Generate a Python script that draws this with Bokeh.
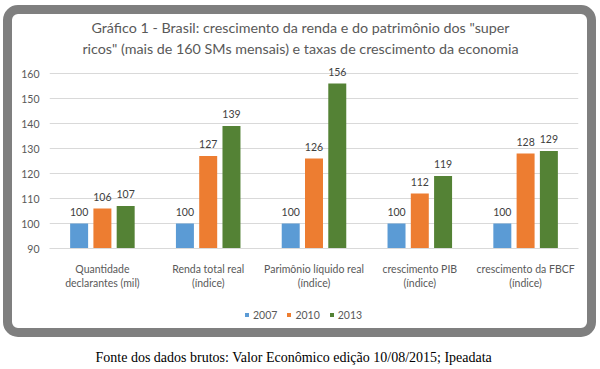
from bokeh.plotting import figure
from bokeh.layouts import column
from bokeh.models import (FactorRange, FixedTicker, LabelSet, Label, Legend, LegendItem,
                          ColumnDataSource, Range1d)
from bokeh.transform import dodge
from bokeh.embed import file_html
from bokeh.resources import INLINE
from bokeh.core.properties import value

# ---------------- data ----------------
categories = ["Quantidade\ndeclarantes (mil)", "Renda total real\n(índice)",
              "Parimônio líquido real\n(índice)", "crescimento PIB\n(índice)",
              "crescimento da FBCF\n(índice)"]
years = ["2007", "2010", "2013"]
v2007 = [100, 100, 100, 100, 100]
v2010 = [106, 127, 126, 112, 128]
v2013 = [107, 139, 156, 119, 129]
y_ticks = [90, 100, 110, 120, 130, 140, 150, 160]
title_text = ('Gráfico 1 - Brasil: crescimento da renda e do patrimônio dos "super\n'
              'ricos" (mais de 160 SMs mensais) e taxas de crescimento da economia')
footer_text = "Fonte dos dados brutos: Valor Econômico edição 10/08/2015; Ipeadata"

colors = ["#5B9BD5", "#ED7D31", "#548235"]
offsets = [-0.22, 0.0, 0.22]

TXT = "#595959"
FONT = "Lato"

src = ColumnDataSource(data=dict(
    cat=categories,
    v2007=v2007, v2010=v2010, v2013=v2013,
    l2007=[str(v) for v in v2007],
    l2010=[str(v) for v in v2010],
    l2013=[str(v) for v in v2013],
))

# ---------------- main chart ----------------
p = figure(width=600, height=300, x_range=FactorRange(factors=categories),
           y_range=Range1d(90, 165.2), output_backend="svg", toolbar_location=None,
           title=None,
           min_border_left=49, min_border_right=22, min_border_top=60,
           min_border_bottom=52)
p.x_range.range_padding = 0
p.background_fill_color = "white"
p.border_fill_color = "white"
p.outline_line_color = None

for yr, col, off in zip(years, colors, offsets):
    p.vbar(x=dodge("cat", off, range=p.x_range), top="v" + yr, bottom=90,
           width=0.17, source=src, fill_color=col, line_color=None)
    p.add_layout(LabelSet(x=dodge("cat", off, range=p.x_range), y="v" + yr,
                          text="l" + yr, source=src, text_align="center",
                          text_baseline="middle", y_offset=12,
                          text_font=value(FONT), text_font_size="10.5px",
                          text_color="#404040"))

p.yaxis.ticker = FixedTicker(ticks=y_ticks)
p.yaxis.axis_line_color = None
p.yaxis.major_tick_line_color = None
p.yaxis.minor_tick_line_color = None
p.yaxis.major_tick_out = 0
p.yaxis.major_tick_in = 0
p.yaxis.major_label_standoff = 10
p.yaxis.major_label_text_font = FONT
p.yaxis.major_label_text_font_size = "10.5px"
p.yaxis.major_label_text_color = TXT

p.xaxis.axis_line_color = "#d9d9d9"
p.xaxis.major_tick_line_color = None
p.xaxis.minor_tick_line_color = None
p.xaxis.major_label_standoff = 8
p.xaxis.major_label_text_font = FONT
p.xaxis.major_label_text_font_size = "10.5px"
p.xaxis.major_label_text_color = TXT
p.xaxis.major_label_text_line_height = 1.2

p.xgrid.grid_line_color = None
p.ygrid.grid_line_color = "#d9d9d9"
p.ygrid.grid_line_width = 1

p.add_layout(Label(x=251, y=22.5, x_units="screen", y_units="screen", text=title_text,
                   text_align="center", text_baseline="middle", text_font=FONT,
                   text_font_size="14.3px", text_line_height=1.22, text_color=TXT),
             "above")

# ---------------- legend + source strip ----------------
q = figure(width=600, height=69, x_range=Range1d(0, 1), y_range=Range1d(0, 1),
           output_backend="svg", toolbar_location=None, title=None,
           x_axis_location=None, y_axis_location=None,
           min_border_left=0, min_border_right=0, min_border_top=0,
           min_border_bottom=0)
q.background_fill_color = "white"
q.border_fill_color = "white"
q.outline_line_color = None
q.grid.grid_line_color = None

# zero-height proxies that only supply the legend swatches
swatches = [q.vbar(x=[0.5], top=[0], width=0.1, fill_color=col, line_color=None)
            for col in colors]
lg = Legend(items=[LegendItem(label=yr, renderers=[r]) for yr, r in zip(years, swatches)],
            orientation="horizontal", location=(195, 48), margin=0, padding=0,
            spacing=9, glyph_width=5, glyph_height=5, label_standoff=4,
            label_height=13, background_fill_alpha=0, border_line_alpha=0,
            label_text_font=FONT, label_text_font_size="10.5px",
            label_text_color=TXT)
q.add_layout(lg, "center")

q.add_layout(Label(x=46, y=12.5, x_units="screen", y_units="screen", text=footer_text,
                   text_align="left", text_baseline="middle",
                   text_font="Liberation Serif", text_font_size="14px",
                   text_color="black"))

layout = column(p, q, spacing=0)

css = """
:host { position: relative; }
:host::after {
  content: "";
  position: absolute;
  left: 3px; top: 5px; width: 593px; height: 332px;
  box-sizing: border-box;
  border: 9px solid #7f7f7f;
  border-radius: 15px;
  pointer-events: none;
}
"""
layout.stylesheets = [css]

open("out.html", "w").write(file_html(layout, INLINE))
